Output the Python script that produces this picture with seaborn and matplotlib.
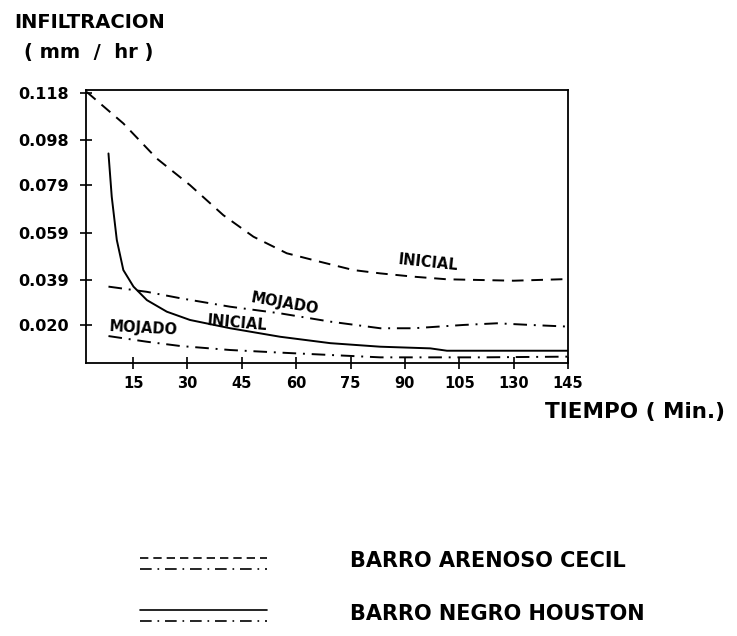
import matplotlib
matplotlib.use("Agg")
import matplotlib.pyplot as plt
import seaborn as sns
import pandas as pd
from matplotlib.lines import Line2D
from matplotlib.legend_handler import HandlerBase

sns.set_theme(style="ticks")
plt.rcParams['font.family'] = ['DejaVu Sans']
plt.rcParams['text.color'] = 'black'
plt.rcParams['axes.labelcolor'] = 'black'
plt.rcParams['xtick.color'] = 'black'
plt.rcParams['ytick.color'] = 'black'

# ---- data (time in minutes, infiltration in mm/hr) ----
cecil_inicial_t = [2.2, 12.3, 21.5, 30.7, 39.9, 48.2, 57.4, 66.6, 75.8, 83.2, 92.4, 101.6, 110.8, 120.0, 135.0]
cecil_inicial_v = [0.1185, 0.1052, 0.0904, 0.0791, 0.0664, 0.0573, 0.0503, 0.0467, 0.0432, 0.0418, 0.0404, 0.0393, 0.0390, 0.0387, 0.0394]

houston_inicial_t = [8.2, 9.1, 10.5, 12.3, 15.1, 18.8, 24.3, 30.7, 41.8, 55.6, 69.4, 83.2, 97.0, 101.6, 135.0]
houston_inicial_v = [0.0925, 0.0742, 0.0559, 0.0432, 0.0362, 0.0305, 0.0256, 0.0221, 0.0186, 0.0150, 0.0123, 0.0108, 0.0101, 0.0091, 0.0091]

cecil_mojado_t = [8.2, 18.8, 28.0, 41.8, 55.6, 69.4, 83.2, 92.4, 106.2, 115.4, 124.6, 135.0]
cecil_mojado_v = [0.0362, 0.0340, 0.0313, 0.0277, 0.0249, 0.0214, 0.0186, 0.0186, 0.0200, 0.0207, 0.0200, 0.0193]

houston_mojado_t = [8.2, 18.8, 28.0, 41.8, 55.6, 69.4, 83.2, 97.0, 110.8, 135.0]
houston_mojado_v = [0.0153, 0.0129, 0.0111, 0.0094, 0.0083, 0.0073, 0.0063, 0.0063, 0.0063, 0.0066]

x_ticks = [15, 30, 45, 60, 75, 90, 105, 120, 135]
x_tick_labels = ['15', '30', '45', '60', '75', '90', '105', '130', '145']
y_ticks = [0.118, 0.098, 0.079, 0.059, 0.039, 0.020]
y_tick_labels = ['0.118', '0.098', '0.079', '0.059', '0.039', '0.020']

frames = []
for name, t, v in [("cecil_inicial", cecil_inicial_t, cecil_inicial_v),
                   ("houston_inicial", houston_inicial_t, houston_inicial_v),
                   ("cecil_mojado", cecil_mojado_t, cecil_mojado_v),
                   ("houston_mojado", houston_mojado_t, houston_mojado_v)]:
    frames.append(pd.DataFrame({"tiempo": t, "infiltracion": v, "serie": name}))
df = pd.concat(frames, ignore_index=True)

LW = 1.4
DASHED = (6, 4)
DASHDOT = (7, 3.5, 1, 3.5)
dashes = {"cecil_inicial": DASHED, "houston_inicial": "",
          "cecil_mojado": DASHDOT, "houston_mojado": DASHDOT}

fig = plt.figure(figsize=(7.37, 6.36), dpi=100)
ax = fig.add_axes([0.1167, 0.4292, 0.654, 0.4292])

sns.lineplot(data=df, x="tiempo", y="infiltracion", style="serie", dashes=dashes,
             color="black", linewidth=LW, estimator=None, legend=False, ax=ax)

ax.set_xlim(2, 135)
ax.set_ylim(0.0039, 0.1193)
ax.set_xticks(x_ticks)
ax.set_xticklabels(x_tick_labels)
ax.set_yticks(y_ticks)
ax.set_yticklabels(y_tick_labels)
ax.set_xlabel("")
ax.set_ylabel("")
for s in ax.spines.values():
    s.set_linewidth(1.3)
    s.set_color("black")
ax.tick_params(direction="inout", length=8, width=1.2, colors="black", pad=5)
ax.tick_params(axis="x", labelsize=10.5)
ax.tick_params(axis="y", labelsize=11.5, pad=8)
for lab in ax.get_xticklabels() + ax.get_yticklabels():
    lab.set_fontweight("bold")

lbl = dict(fontsize=10.5, fontweight="bold", ha="center", va="center", color="black")
ax.text(96.4, 0.0462, "INICIAL", rotation=-6, **lbl)
ax.text(56.7, 0.0292, "MOJADO", rotation=-10, **lbl)
ax.text(43.6, 0.0207, "INICIAL", rotation=-5, **lbl)
ax.text(17.7, 0.0186, "MOJADO", rotation=-3, **lbl)

fig.text(0.02, 0.9654, "INFILTRACION", fontsize=14, fontweight="bold", va="center", ha="left")
fig.text(0.032, 0.918, "( mm  /  hr )", fontsize=14, fontweight="bold", va="center", ha="left")
fig.text(0.74, 0.352, "TIEMPO ( Min.)", fontsize=15.5, fontweight="bold", va="center", ha="left")


class StackedHandler(HandlerBase):
    def create_artists(self, legend, orig_handle, xdescent, ydescent,
                       width, height, fontsize, trans):
        arts = []
        for frac, h in zip([0.65, -0.1], orig_handle):
            y = -ydescent + height * frac
            l = Line2D([-xdescent, -xdescent + width], [y, y])
            l.update_from(h)
            l.set_transform(trans)
            arts.append(l)
        return arts


h_cecil = (Line2D([], [], color="black", lw=1.2, dashes=(5, 3)),
           Line2D([], [], color="black", lw=1.2, dashes=DASHDOT))
h_houston = (Line2D([], [], color="black", lw=1.2),
             Line2D([], [], color="black", lw=1.2, dashes=DASHDOT))

leg = fig.legend([h_cecil, h_houston], ["BARRO ARENOSO CECIL", "BARRO NEGRO HOUSTON"],
                 handler_map={tuple: StackedHandler()},
                 loc="upper left", bbox_to_anchor=(0.19, 0.133), frameon=False,
                 prop={"size": 15, "weight": "bold"}, handlelength=6.1,
                 handletextpad=4.0, labelspacing=1.55, borderpad=0, borderaxespad=0)

fig.savefig("out.png", dpi=100, facecolor="white")
